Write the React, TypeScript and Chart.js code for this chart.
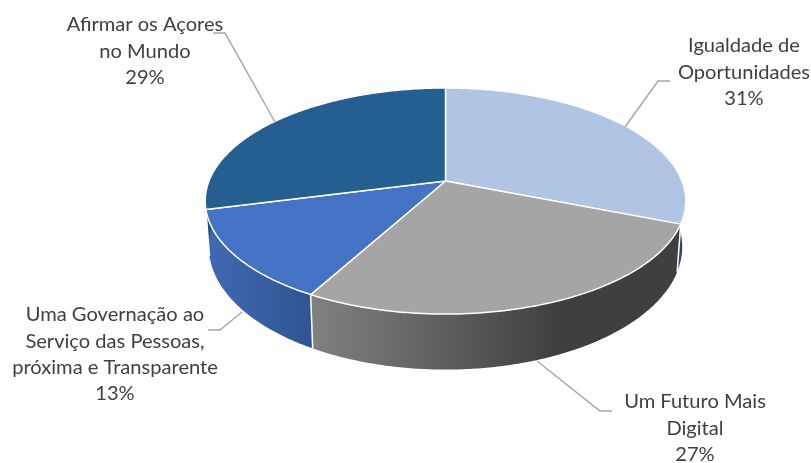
import React, { useEffect, useRef } from "react";
import { Chart, registerables } from "chart.js";

Chart.register(...registerables);

const categories = ["Igualdade de Oportunidades", "Um Futuro Mais Digital", "Uma Governação ao Serviço das Pessoas, próxima e Transparente", "Afirmar os Açores no Mundo"];
const shares = [31, 27, 13, 29];
const faceColors = ["#B0C4E3", "#A5A5A5", "#4472C4", "#255E91"];
const wallFrom = ["#2E4A78", "#808080", "#4169B2", "#1D4D78"];
const wallTo = ["#2A3F66", "#3F3F3F", "#2F5494", "#1D4D78"];
const labelLines = [
  ["Igualdade de", "Oportunidades", "31%"],
  ["Um Futuro Mais", "Digital", "27%"],
  ["Uma Governação ao", "Serviço das Pessoas,", "próxima e Transparente", "13%"],
  ["Afirmar os Açores", "no Mundo", "29%"],
];
const labelAnchors = [[744, 46], [695, 402], [115, 315], [145, 25]];
const leaders = [
  [[625, 127], [658, 81], [670, 81]],
  [[537, 361], [600, 411], [612, 411]],
  [[242, 312], [220, 330], [208, 330]],
  [[275, 122], [225, 33], [213, 33]],
];
const wallGradX = [[676, 684], [313, 560], [207, 313], [205, 300]];

const CX = 445.5, CY = 181, RX = 236.5, RY = 109.5, K = 0.177;
const CY2 = 225, RY2 = 119, SX2 = 0.985;

function top(a: number): [number, number] {
  const u = Math.cos(a), v = -Math.sin(a), d = 1 + K * v;
  return [CX + (RX * u) / d, CY - (RY * v) / d];
}
function low(a: number): [number, number] {
  const u = Math.cos(a), v = -Math.sin(a), d = 1 + K * v;
  return [CX + (RX * SX2 * u) / d, CY2 - (RY2 * v) / d];
}
function samples(s: number, e: number): number[] {
  const n = Math.max(8, Math.ceil((e - s) / 0.01));
  const out: number[] = [];
  for (let i = 0; i <= n; i++) out.push(s + ((e - s) * i) / n);
  return out;
}

const perspectivePie = {
  id: "perspectivePie",
  beforeDatasetDraw(chart: any) {
    const ctx = chart.ctx as CanvasRenderingContext2D;
    const arcs = chart.getDatasetMeta(0).data;
    ctx.save();
    ctx.lineJoin = "round";
    // side walls
    arcs.forEach((arc: any, i: number) => {
      const as = samples(arc.startAngle, arc.endAngle);
      const g = ctx.createLinearGradient(wallGradX[i][0], 0, wallGradX[i][1], 0);
      g.addColorStop(0, wallFrom[i]);
      g.addColorStop(1, wallTo[i]);
      ctx.beginPath();
      as.forEach((a, j) => {
        const p = top(a);
        if (j === 0) ctx.moveTo(p[0], p[1]);
        else ctx.lineTo(p[0], p[1]);
      });
      as.slice().reverse().forEach((a) => {
        const p = low(a);
        ctx.lineTo(p[0], p[1]);
      });
      ctx.closePath();
      ctx.fillStyle = g;
      ctx.fill();
    });
    // wall seams
    ctx.strokeStyle = "#FFFFFF";
    ctx.lineWidth = 1.5;
    arcs.forEach((arc: any) => {
      const p = top(arc.startAngle), q = low(arc.startAngle);
      if (q[1] - p[1] > 0 && Math.sin(arc.startAngle) > 0) {
        ctx.beginPath();
        ctx.moveTo(p[0], p[1]);
        ctx.lineTo(q[0], q[1]);
        ctx.stroke();
      }
    });
    // top faces
    arcs.forEach((arc: any) => {
      ctx.beginPath();
      ctx.moveTo(CX, CY);
      samples(arc.startAngle, arc.endAngle).forEach((a) => {
        const p = top(a);
        ctx.lineTo(p[0], p[1]);
      });
      ctx.closePath();
      ctx.fillStyle = arc.options.backgroundColor;
      ctx.fill();
      ctx.strokeStyle = "#FFFFFF";
      ctx.lineWidth = 1.5;
      ctx.stroke();
    });
    ctx.restore();
    return false;
  },
  afterDraw(chart: any) {
    const ctx = chart.ctx as CanvasRenderingContext2D;
    ctx.save();
    ctx.strokeStyle = "#A6A6A6";
    ctx.lineWidth = 1.5;
    leaders.forEach((pts) => {
      ctx.beginPath();
      pts.forEach((p, j) => (j === 0 ? ctx.moveTo(p[0], p[1]) : ctx.lineTo(p[0], p[1])));
      ctx.stroke();
    });
    ctx.fillStyle = "#404040";
    ctx.font = "20.1px Lato, 'Open Sans', sans-serif";
    ctx.textAlign = "center";
    ctx.textBaseline = "middle";
    labelLines.forEach((lines, i) => {
      lines.forEach((t, j) => {
        ctx.fillText(t, labelAnchors[i][0], labelAnchors[i][1] + j * 26.2);
      });
    });
    ctx.restore();
  },
};

export default function App() {
  const ref = useRef<HTMLCanvasElement>(null);
  useEffect(() => {
    if (!ref.current) return;
    const chart = new Chart(ref.current, {
      type: "pie",
      data: {
        labels: categories,
        datasets: [{ data: shares, backgroundColor: faceColors, borderWidth: 0 }],
      },
      options: {
        responsive: false,
        animation: false,
        plugins: { legend: { display: false }, tooltip: { enabled: false } },
      },
      plugins: [perspectivePie],
    } as any);
    return () => chart.destroy();
  }, []);
  return (
    <div style={{ position: "absolute", left: 0, top: 0, width: 811, height: 463, background: "#FFFFFF" }}>
      <canvas ref={ref} width={811} height={463} style={{ display: "block" }} />
    </div>
  );
}
